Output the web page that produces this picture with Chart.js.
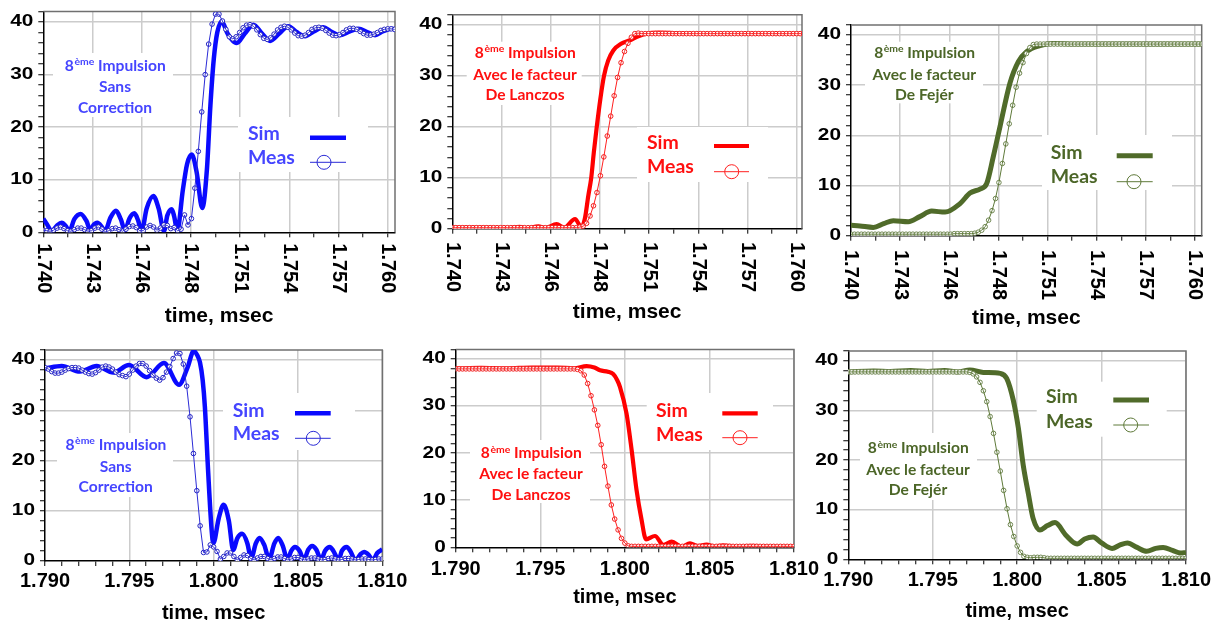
<!DOCTYPE html>
<html>
<head>
<meta charset="utf-8">
<script src="https://cdn.jsdelivr.net/npm/chart.js@4.4.0/dist/chart.umd.min.js"></script>
<style>
  html, body { margin: 0; padding: 0; background: #fff; }
  body { width: 1220px; height: 620px; position: relative; overflow: hidden; }
  canvas { position: absolute; }
</style>
</head>
<body>
<canvas id="c1"></canvas>
<canvas id="c2"></canvas>
<canvas id="c3"></canvas>
<canvas id="c4"></canvas>
<canvas id="c5"></canvas>
<canvas id="c6"></canvas>
<script>
// ---- text ----
var topTickLabels = ['1.740', '1.743', '1.746', '1.748', '1.751', '1.754', '1.757', '1.760'];
var bottomTickLabels = ['1.790', '1.795', '1.800', '1.805', '1.810'];
var yTickLabels = ['0', '10', '20', '30', '40'];
var seriesNames = ['Sim', 'Meas'];
var axisTitle = 'time, msec';
var noteHead = ['8', 'ème', ' Impulsion'];
var noteSans = ['Sans', 'Correction'];
var noteLanczos = ['Avec le facteur', 'De Lanczos'];
var noteFejer = ['Avec le facteur', 'De Fejér'];

// ---- Sim curves, [time msec, value] ----
var simPanel1 = [[1.7400, 2.6], [1.7402, 1.6], [1.74049, 0.2], [1.7408, 1.3], [1.74107, 1.8], [1.7413, 1.2], [1.74151, 0.2],
  [1.7418, 2.5], [1.74217, 3.5], [1.7425, 2.2], [1.74275, 0.3], [1.7429, 1.3], [1.74314, 1.8], [1.7434, 1.0], [1.74358, 0.2],
  [1.7439, 2.8], [1.74422, 4.1], [1.7445, 2.5], [1.74474, 0.4], [1.7450, 2.6], [1.74529, 3.6], [1.7455, 2.3], [1.74571, 0.2],
  [1.7460, 4.5], [1.74639, 6.9], [1.7467, 4.5], [1.74701, 0.2], [1.7472, 3.2], [1.74746, 4.4], [1.7476, 3.0], [1.74778, 0.3],
  [1.7481, 8.0], [1.74835, 13.0], [1.74862, 14.8], [1.7489, 11.5], [1.74923, 4.6], [1.7495, 12], [1.7497, 24], [1.7499, 33],
  [1.7501, 38], [1.75036, 40.1], [1.7507, 37.8], [1.75123, 36.0], [1.7517, 37.8], [1.7522, 39.5], [1.7527, 37.8], [1.75317, 36.4],
  [1.7537, 37.8], [1.75423, 39.2], [1.7547, 38.1], [1.7552, 37.3], [1.7557, 38.2], [1.75626, 39.0], [1.7567, 38.2], [1.75723, 37.5],
  [1.7578, 38.2], [1.7583, 38.7], [1.7588, 38.1], [1.75926, 37.5], [1.7597, 38.2], [1.76023, 38.7], [1.7605, 38.6]];

var simPanel2 = [[1.7400, 0.2], [1.7420, 0.2], [1.7434, 0.15], [1.7439, 0.35], [1.7443, 0.1], [1.7450, 0.45], [1.7454, 0.1],
  [1.74606, 0.9], [1.7465, 0.2], [1.74713, 1.9], [1.7475, 0.3], [1.7477, 2.0], [1.7479, 6.5], [1.74807, 10], [1.74822, 15],
  [1.74839, 20], [1.7486, 25.5], [1.74881, 30], [1.74905, 33], [1.74935, 35], [1.7498, 36.3], [1.75032, 37.0], [1.7508, 37.8],
  [1.75125, 38.3], [1.7520, 38.5], [1.7530, 38.4], [1.7550, 38.3], [1.7580, 38.3], [1.7605, 38.3]];

var simPanel3 = [[1.7400, 2.1], [1.74052, 1.95], [1.7413, 1.65], [1.7419, 2.4], [1.74246, 3.0], [1.74333, 2.8], [1.7440, 3.8],
  [1.74469, 4.9], [1.74547, 4.7], [1.74634, 6.4], [1.74692, 8.5], [1.7475, 9.3], [1.74789, 10.4], [1.74827, 15.7], [1.74866, 21.7],
  [1.74924, 30.4], [1.74973, 34.7], [1.75021, 36.7], [1.75099, 37.9], [1.75176, 38.3], [1.7530, 38.2], [1.7605, 38.2]];

var simPanel4 = [[1.7900, 38.3], [1.79099, 38.8], [1.79207, 37.7], [1.79306, 38.8], [1.79405, 37.5], [1.79498, 39.0], [1.79603, 36.6],
  [1.79705, 39.4], [1.79795, 35.1], [1.79845, 38.5], [1.79882, 41.8], [1.79902, 41.0], [1.79919, 39.5], [1.79935, 36], [1.79948, 30.7],
  [1.79968, 17.4], [1.79988, 6.2], [1.79998, 3.5], [1.8003, 8.5], [1.80059, 11.2], [1.8009, 8], [1.80116, 2.2], [1.8014, 4.5],
  [1.80169, 5.4], [1.8020, 3.5], [1.80222, 0.5], [1.8025, 3.5], [1.80272, 4.6], [1.8030, 3.2], [1.80329, 0.4], [1.8036, 3.5],
  [1.80383, 4.6], [1.8041, 3], [1.80437, 0.3], [1.8046, 2.0], [1.80482, 2.8], [1.8051, 2], [1.80535, 0.2], [1.8056, 2.2],
  [1.80584, 3.0], [1.8061, 2.2], [1.80637, 0.2], [1.8066, 2], [1.80689, 2.8], [1.8071, 2], [1.80741, 0.2], [1.8076, 2],
  [1.80789, 2.8], [1.8081, 2], [1.80841, 0.15], [1.8087, 1.3], [1.80892, 1.8], [1.8092, 1.2], [1.80944, 0.1], [1.8097, 1.6],
  [1.8100, 2.3]];

var simPanel5 = [[1.7900, 38.0], [1.7915, 38.1], [1.7930, 38.0], [1.7945, 38.2], [1.7960, 38.2], [1.7970, 38.0], [1.79774, 38.5],
  [1.7982, 38.2], [1.79853, 37.6], [1.7990, 37.3], [1.79931, 36.8], [1.79955, 35.5], [1.79971, 34.1], [1.8001, 28.4], [1.8004, 20.7],
  [1.80069, 12.2], [1.80099, 5.8], [1.80125, 1.7], [1.80178, 2.4], [1.80227, 0.5], [1.80277, 1.2], [1.80336, 0.15], [1.80385, 0.85],
  [1.8043, 0.3], [1.80483, 0.6], [1.8053, 0.2], [1.8058, 0.4], [1.8065, 0.2], [1.8075, 0.3], [1.8090, 0.2], [1.8100, 0.2]];

var simPanel6 = [[1.7900, 37.8], [1.7915, 38.0], [1.7925, 37.9], [1.7937, 38.1], [1.7947, 37.9], [1.7957, 38.1], [1.7965, 37.8],
  [1.7972, 38.2], [1.7980, 37.7], [1.7990, 37.5], [1.79938, 36.5], [1.79977, 32.1], [1.80007, 26.5], [1.80036, 19.0], [1.80066, 13.3],
  [1.80095, 8.2], [1.80135, 5.9], [1.8018, 6.8], [1.80224, 7.4], [1.8029, 4.8], [1.80355, 3.1], [1.8040, 4.1], [1.8045, 4.5],
  [1.8050, 3.3], [1.80562, 2.2], [1.8061, 2.9], [1.80653, 3.3], [1.8071, 2.4], [1.80767, 1.6], [1.8082, 2.2], [1.80865, 2.4],
  [1.8092, 1.8], [1.80968, 1.25], [1.8100, 1.4]];

// ---- Meas samples, one every 0.0002 msec ----
var measStep = 0.0002;
var measStartTop = 1.740;
var measStartBottom = 1.790;

var measPanel1 = [0.4, 0.3, 0.2, 0.4, 0.8, 1.0, 0.7, 0.3, 0.2, 0.5,
  0.8, 0.8, 0.5, 0.2, 0.3, 0.8, 1.0, 0.6, 0.1, 0.3,
  0.7, 0.8, 0.5, 0.2, 0.6, 1.1, 1.2, 0.9, 0.3, 0.3,
  1.0, 1.3, 1.0, 0.4, 0.8, 1.4, 1.3, 0.7, 0.9, 0.3,
  0.6, 3.3, 1.4, 2.6, 8.4, 15.4, 22.9, 30.0, 35.8, 39.6,
  41.5, 41.5, 40.2, 38.6, 37.2, 36.8, 37.2, 38.0, 38.9, 39.4,
  39.5, 39.2, 38.5, 37.6, 36.9, 36.7, 37.0, 37.7, 38.5, 39.0,
  39.2, 39.0, 38.5, 37.9, 37.4, 37.3, 37.5, 38.0, 38.6, 38.9,
  39.0, 38.8, 38.4, 37.9, 37.5, 37.4, 37.6, 38.0, 38.5, 38.8,
  38.8, 38.6, 38.2, 37.8, 37.5, 37.5, 37.7, 38.0, 38.4, 38.6,
  38.7, 38.7, 38.6];

var measPanel2 = [0.2, 0.2, 0.2, 0.2, 0.2, 0.2, 0.2, 0.2, 0.2, 0.2,
  0.2, 0.2, 0.2, 0.2, 0.2, 0.2, 0.2, 0.2, 0.2, 0.2,
  0.2, 0.2, 0.2, 0.2, 0.2, 0.2, 0.2, 0.2, 0.2, 0.2,
  0.2, 0.2, 0.2, 0.2, 0.2, 0.2, 0.2, 0.3, 0.5, 1.06,
  2.5, 4.5, 7.1, 10.4, 14.1, 18.2, 22.1, 26.1, 29.7, 32.6,
  34.8, 36.4, 37.6, 38.3, 38.4, 38.3, 38.3, 38.3, 38.3, 38.3,
  38.3, 38.3, 38.3, 38.3, 38.3, 38.3, 38.3, 38.3, 38.3, 38.3,
  38.3, 38.3, 38.3, 38.3, 38.3, 38.3, 38.3, 38.3, 38.3, 38.3,
  38.3, 38.3, 38.3, 38.3, 38.3, 38.3, 38.3, 38.3, 38.3, 38.3,
  38.3, 38.3, 38.3, 38.3, 38.3, 38.3, 38.3, 38.3, 38.3, 38.3,
  38.3, 38.3, 38.3];

var measPanel3 = [0.3, 0.3, 0.3, 0.3, 0.3, 0.3, 0.3, 0.3, 0.3, 0.3,
  0.3, 0.3, 0.3, 0.3, 0.3, 0.3, 0.3, 0.3, 0.3, 0.3,
  0.3, 0.3, 0.3, 0.3, 0.3, 0.3, 0.3, 0.3, 0.3, 0.3,
  0.4, 0.4, 0.4, 0.4, 0.4, 0.4, 0.5, 0.7, 1.1, 1.8,
  3.1, 5.0, 7.4, 10.6, 14.4, 18.3, 22.3, 26.0, 29.6, 32.4,
  34.5, 36.3, 37.5, 38.1, 38.2, 38.2, 38.2, 38.2, 38.2, 38.2,
  38.2, 38.2, 38.2, 38.2, 38.2, 38.2, 38.2, 38.2, 38.2, 38.2,
  38.2, 38.2, 38.2, 38.2, 38.2, 38.2, 38.2, 38.2, 38.2, 38.2,
  38.2, 38.2, 38.2, 38.2, 38.2, 38.2, 38.2, 38.2, 38.2, 38.2,
  38.2, 38.2, 38.2, 38.2, 38.2, 38.2, 38.2, 38.2, 38.2, 38.2,
  38.2, 38.2, 38.2];

var measPanel4 = [38.5, 38.2, 37.7, 37.4, 37.4, 37.6, 38.0, 38.3, 38.5, 38.5,
  38.4, 38.0, 37.6, 37.3, 37.2, 37.5, 38.0, 38.6, 38.8, 38.6,
  38.2, 37.6, 37.1, 36.9, 36.7, 37.2, 38.0, 38.8, 39.3, 39.3,
  38.8, 37.9, 37.0, 36.4, 36.0, 36.5, 37.6, 38.7, 40.3, 41.4,
  41.3, 39.2, 34.8, 28.7, 21.4, 14.0, 7.0, 1.7, 1.8, 3.2,
  2.8, 1.9, 0.4, 0.9, 1.6, 1.6, 0.9, 0.2, 0.7, 1.2,
  1.1, 0.5, 0.2, 0.6, 0.9, 0.9, 0.5, 0.2, 0.5, 0.8,
  0.8, 0.5, 0.2, 0.4, 0.7, 0.7, 0.4, 0.2, 0.4, 0.6,
  0.6, 0.4, 0.2, 0.3, 0.5, 0.6, 0.4, 0.2, 0.3, 0.5,
  0.5, 0.4, 0.2, 0.3, 0.4, 0.4, 0.3, 0.2, 0.3, 0.4,
  0.4];

var measPanel5 = [37.9, 37.9, 37.9, 37.9, 37.9, 37.9, 37.9, 37.9, 37.9, 37.9,
  37.9, 37.9, 37.9, 37.9, 37.9, 37.9, 37.9, 37.9, 37.9, 37.9,
  37.9, 37.9, 37.9, 37.9, 37.9, 37.9, 37.9, 37.9, 37.9, 37.9,
  37.9, 37.9, 37.9, 37.9, 37.9, 37.9, 37.8, 37.5, 36.6, 34.8,
  32.2, 29.2, 25.9, 21.8, 17.2, 13.0, 9.0, 6.0, 3.7, 1.9,
  0.9, 0.3, 0.2, 0.2, 0.2, 0.2, 0.2, 0.2, 0.2, 0.2,
  0.2, 0.2, 0.2, 0.2, 0.2, 0.2, 0.2, 0.2, 0.2, 0.2,
  0.2, 0.2, 0.2, 0.2, 0.2, 0.2, 0.2, 0.2, 0.2, 0.2,
  0.2, 0.2, 0.2, 0.2, 0.2, 0.2, 0.2, 0.2, 0.2, 0.2,
  0.2, 0.2, 0.2, 0.2, 0.2, 0.2, 0.2, 0.2, 0.2, 0.2,
  0.2];

var measPanel6 = [37.8, 37.8, 37.8, 37.8, 37.8, 37.8, 37.8, 37.8, 37.8, 37.8,
  37.8, 37.8, 37.8, 37.8, 37.8, 37.8, 37.8, 37.8, 37.8, 37.8,
  37.8, 37.8, 37.8, 37.8, 37.8, 37.8, 37.8, 37.8, 37.8, 37.8,
  37.8, 37.8, 37.8, 37.8, 37.8, 37.8, 37.7, 37.4, 36.8, 35.7,
  34.0, 31.8, 28.8, 25.4, 21.6, 17.8, 13.9, 10.2, 7.0, 4.6,
  2.7, 1.4, 0.6, 0.4, 0.3, 0.4, 0.4, 0.4, 0.3, 0.2,
  0.2, 0.2, 0.2, 0.2, 0.2, 0.2, 0.2, 0.2, 0.2, 0.2,
  0.2, 0.2, 0.2, 0.2, 0.2, 0.2, 0.2, 0.2, 0.2, 0.2,
  0.2, 0.2, 0.2, 0.2, 0.2, 0.2, 0.2, 0.2, 0.2, 0.2,
  0.2, 0.2, 0.2, 0.2, 0.2, 0.2, 0.2, 0.2, 0.2, 0.2,
  0.2];

// ---- styles ----
var gridGray = '#cccccc';
var frameGray = '#707070';
var blue = { sim: '#0a0aff', line: '#2b2bd6', marker: '#2424c0', text: '#4545ff' };
var red = { sim: '#ff0000', line: '#ff2020', marker: '#f02020', text: '#ff1010' };
var green = { sim: '#506b2a', line: '#5f7a3a', marker: '#6f8650', text: '#4c6628' };
var noteFont = 'bold 15px Lato';
var noteSupFont = 'bold 10px Lato';
var legendFont = 'bold 18px Lato';

var panels = [
  { id: 'c1', canvas: { x: 0, y: 0, w: 410, h: 330 }, box: { L: 43.3, T: 11.5, R: 395, B: 232.3 },
    xMin: 1.740, xMax: 1.76042, row: 'top', color: blue, sim: simPanel1, meas: measPanel1, simWidth: 4.5,
    note: noteSans, noteBox: [53, 53, 173, 117], noteX: 115, noteY: [65.7, 87.3, 107.7],
    legendBox: [238, 117, 368, 172], legendX: 248, legendY: [134, 158], sampleX: [310, 346], sampleY: [137.7, 162.3], circleX: 324,
    labelY: 243.3, titleY: 316.7, titleSize: 21 },
  { id: 'c2', canvas: { x: 410, y: 0, w: 400, h: 330 }, box: { L: 452.3, T: 14.8, R: 802, B: 228.7 },
    xMin: 1.740, xMax: 1.76031, row: 'top', color: red, sim: simPanel2, meas: measPanel2, simWidth: 4.2,
    note: noteLanczos, noteBox: [466.7, 41.7, 581.7, 105], noteX: 525, noteY: [52.7, 75, 95],
    legendBox: [637, 127, 768, 182], legendX: 647, legendY: [143.3, 166.7], sampleX: [714, 749], sampleY: [146, 171.7], circleX: 731.7,
    labelY: 242, titleY: 312, titleSize: 21 },
  { id: 'c3', canvas: { x: 810, y: 0, w: 410, h: 330 }, box: { L: 851, T: 25, R: 1201.7, B: 235.7 },
    xMin: 1.740, xMax: 1.76039, row: 'top', color: green, sim: simPanel3, meas: measPanel3, simWidth: 5,
    note: noteFejer, noteBox: [865, 41.7, 983, 103.3], noteX: 924.3, noteY: [52.7, 75, 95],
    legendBox: [1042, 135, 1172, 190], legendX: 1050.7, legendY: [153.3, 176.7], sampleX: [1116.7, 1152.7], sampleY: [155.7, 181.7], circleX: 1134,
    labelY: 250, titleY: 318, titleSize: 21 },
  { id: 'c4', canvas: { x: 0, y: 335, w: 412, h: 285 }, box: { L: 45, T: 350, R: 382.3, B: 561 },
    xMin: 1.790, xMax: 1.810, row: 'bottom', color: blue, sim: simPanel4, meas: measPanel4, simWidth: 4.5,
    note: noteSans, noteBox: [57, 433, 173, 497], noteX: 115.7, noteY: [445, 466.7, 486.7],
    legendBox: [223, 393, 355, 450], legendX: 232.7, legendY: [410.7, 434], sampleX: [295, 330.7], sampleY: [413.3, 438.3], circleX: 313.3,
    labelY: 581.7, titleY: 613, titleSize: 20 },
  { id: 'c5', canvas: { x: 405, y: 335, w: 418, h: 285 }, box: { L: 455.7, T: 349.6, R: 794, B: 547.3 },
    xMin: 1.790, xMax: 1.810, row: 'bottom', color: red, sim: simPanel5, meas: measPanel5, simWidth: 4.2,
    note: noteLanczos, noteBox: [470, 440, 590, 503], noteX: 531, noteY: [453.3, 474.3, 495],
    legendBox: [646.7, 393, 773, 450], legendX: 656, legendY: [410.7, 435], sampleX: [722.3, 757.7], sampleY: [413.3, 437.7], circleX: 740,
    labelY: 569, titleY: 597, titleSize: 20 },
  { id: 'c6', canvas: { x: 812, y: 335, w: 408, h: 285 }, box: { L: 848.3, T: 351.1, R: 1186, B: 559.3 },
    xMin: 1.790, xMax: 1.810, row: 'bottom', color: green, sim: simPanel6, meas: measPanel6, simWidth: 5,
    note: noteFejer, noteBox: [860, 433, 977, 500], noteX: 918, noteY: [448.3, 470, 490],
    legendBox: [1036.7, 381.7, 1166.7, 436.7], legendX: 1046, legendY: [397.3, 421.7], sampleX: [1113.3, 1149], sampleY: [400, 425], circleX: 1130.7,
    labelY: 580.7, titleY: 611.7, titleSize: 20 }
];

function putText(ctx, str, x, y, font, color, align, sx) {
  ctx.save();
  ctx.font = font;
  ctx.fillStyle = color;
  ctx.textAlign = align;
  ctx.textBaseline = 'middle';
  ctx.translate(x, y);
  ctx.scale(sx, 1);
  ctx.fillText(str, 0, 0);
  ctx.restore();
}

function drawNoteHead(ctx, cx, cy, color) {
  var sx = 1.04;
  ctx.save();
  ctx.font = noteFont;
  var w1 = ctx.measureText(noteHead[0]).width, w3 = ctx.measureText(noteHead[2]).width;
  ctx.font = noteSupFont;
  var w2 = ctx.measureText(noteHead[1]).width;
  ctx.translate(cx - (w1 + w2 + w3) * sx / 2, cy);
  ctx.scale(sx, 1);
  ctx.fillStyle = color;
  ctx.textAlign = 'left';
  ctx.textBaseline = 'middle';
  ctx.font = noteFont;
  ctx.fillText(noteHead[0], 0, 0);
  ctx.font = noteSupFont;
  ctx.fillText(noteHead[1], w1 + 0.5, -4);
  ctx.font = noteFont;
  ctx.fillText(noteHead[2], w1 + w2 + 0.5, 0);
  ctx.restore();
}

function decorPlugin(p) {
  var ox = p.canvas.x, oy = p.canvas.y;
  return {
    id: 'decor',
    beforeDatasetsDraw: function (chart) {
      var ctx = chart.ctx, a = chart.chartArea, c = p.color;
      ctx.save();
      ctx.strokeStyle = frameGray;
      ctx.lineWidth = 1.5;
      ctx.beginPath();
      ctx.moveTo(a.left, a.top);
      ctx.lineTo(a.right, a.top);
      ctx.lineTo(a.right, a.bottom);
      ctx.stroke();

      ctx.fillStyle = '#fff';
      [p.noteBox, p.legendBox].forEach(function (b) {
        ctx.fillRect(b[0] - ox, b[1] - oy, b[2] - b[0], b[3] - b[1]);
      });

      // note text
      drawNoteHead(ctx, p.noteX - ox, p.noteY[0] - oy, c.text);
      putText(ctx, p.note[0], p.noteX - ox, p.noteY[1] - oy, noteFont, c.text, 'center', 1.04);
      putText(ctx, p.note[1], p.noteX - ox, p.noteY[2] - oy, noteFont, c.text, 'center', 1.04);

      // legend
      putText(ctx, seriesNames[0], p.legendX - ox, p.legendY[0] - oy, legendFont, c.text, 'left', 1.08);
      putText(ctx, seriesNames[1], p.legendX - ox, p.legendY[1] - oy, legendFont, c.text, 'left', 1.08);
      ctx.strokeStyle = c.sim;
      ctx.lineWidth = p.simWidth;
      ctx.beginPath();
      ctx.moveTo(p.sampleX[0] - ox, p.sampleY[0] - oy);
      ctx.lineTo(p.sampleX[1] - ox, p.sampleY[0] - oy);
      ctx.stroke();
      ctx.strokeStyle = c.line;
      ctx.lineWidth = 1;
      ctx.beginPath();
      ctx.arc(p.circleX - ox, p.sampleY[1] - oy, 7, 0, Math.PI * 2);
      ctx.stroke();
      ctx.beginPath();
      ctx.moveTo(p.sampleX[0] - ox, p.sampleY[1] - oy);
      ctx.lineTo(p.sampleX[1] - ox, p.sampleY[1] - oy);
      ctx.stroke();
      ctx.restore();
    },
    afterDraw: function (chart) {
      var ctx = chart.ctx, xs = chart.scales.x, ys = chart.scales.y, a = chart.chartArea;
      yTickLabels.forEach(function (t, k) {
        putText(ctx, t, a.left - 10, ys.getPixelForValue(k * 10), 'bold 16px "Liberation Sans"', '#000', 'right', 1.3);
      });
      if (p.row === 'top') {
        topTickLabels.forEach(function (t, k) {
          ctx.save();
          ctx.font = 'bold 20px "Liberation Sans"';
          ctx.fillStyle = '#000';
          ctx.textAlign = 'left';
          ctx.textBaseline = 'middle';
          ctx.translate(xs.getPixelForValue(p.xTicks[k * 2]), p.labelY - oy);
          ctx.rotate(Math.PI / 2);
          ctx.fillText(t, 0, 0);
          ctx.restore();
        });
      } else {
        bottomTickLabels.forEach(function (t, k) {
          putText(ctx, t, xs.getPixelForValue(p.xTicks[k * 5]), p.labelY - oy, 'bold 20px "Liberation Sans"', '#000', 'center', 1);
        });
      }
      putText(ctx, axisTitle, (a.left + a.right) / 2, p.titleY - oy, 'bold ' + p.titleSize + 'px "Liberation Sans"', '#000', 'center', 1);
    }
  };
}

function makeChart(p) {
  var el = document.getElementById(p.id);
  el.width = p.canvas.w;
  el.height = p.canvas.h;
  el.style.left = p.canvas.x + 'px';
  el.style.top = p.canvas.y + 'px';

  var nx = p.row === 'top' ? 14 : 20;
  var major = p.row === 'top' ? 2 : 5;
  p.xTicks = [];
  for (var k = 0; k <= nx; k++) p.xTicks.push(+(p.xMin + k * 0.02 / nx).toFixed(7));
  var yTicks = [];
  for (var j = 0; j <= 21; j++) yTicks.push(j * 2);

  var start = p.row === 'top' ? measStartTop : measStartBottom;
  var measPts = p.meas.map(function (v, i) { return { x: +(start + i * measStep).toFixed(5), y: v }; });
  var simPts = p.sim.map(function (d) { return { x: d[0], y: d[1] }; });

  new Chart(el, {
    type: 'line',
    data: {
      datasets: [
        { label: 'Meas', data: measPts, borderColor: p.color.line, borderWidth: 1, pointRadius: 0, order: 0 },
        { label: 'Meas', data: measPts, showLine: false, pointRadius: 2.3, pointBorderWidth: 1,
          pointBackgroundColor: '#ffffff', pointBorderColor: p.color.marker, order: 1 },
        { label: 'Sim', data: simPts, borderColor: p.color.sim, borderWidth: p.simWidth, pointRadius: 0,
          cubicInterpolationMode: 'monotone', order: 2 }
      ]
    },
    options: {
      responsive: false,
      animation: false,
      devicePixelRatio: 1,
      events: [],
      layout: { padding: { left: 0, bottom: 0, top: p.box.T - p.canvas.y, right: p.canvas.x + p.canvas.w - p.box.R } },
      plugins: { legend: { display: false }, tooltip: { enabled: false } },
      scales: {
        x: {
          type: 'linear', min: p.xMin, max: p.xMax,
          afterBuildTicks: function (s) { s.ticks = p.xTicks.map(function (v) { return { value: v }; }); },
          afterFit: function (s) {
            s.height = p.canvas.y + p.canvas.h - p.box.B;
            s.paddingLeft = 0; s.paddingRight = 0; s.paddingTop = 0; s.paddingBottom = 0;
          },
          ticks: { display: false },
          grid: {
            color: function (c) { return (c.index % major === 0 && c.index > 0) ? gridGray : 'rgba(0,0,0,0)'; },
            lineWidth: 1.5, tickColor: '#000', tickLength: 5, tickWidth: 1
          },
          border: { display: true, color: '#000', width: 1.5 }
        },
        y: {
          type: 'linear', min: 0, max: 42,
          afterBuildTicks: function (s) { s.ticks = yTicks.map(function (v) { return { value: v }; }); },
          afterFit: function (s) {
            s.width = p.box.L - p.canvas.x;
            s.paddingLeft = 0; s.paddingRight = 0; s.paddingTop = 0; s.paddingBottom = 0;
          },
          ticks: { display: false },
          grid: {
            color: function (c) { return (c.index % 5 === 0 && c.index > 0) ? gridGray : 'rgba(0,0,0,0)'; },
            lineWidth: 1.5, tickColor: '#000', tickLength: 5, tickWidth: 1
          },
          border: { display: true, color: '#000', width: 1.5 }
        }
      }
    },
    plugins: [decorPlugin(p)]
  });
}

panels.forEach(makeChart);
</script>
</body>
</html>
